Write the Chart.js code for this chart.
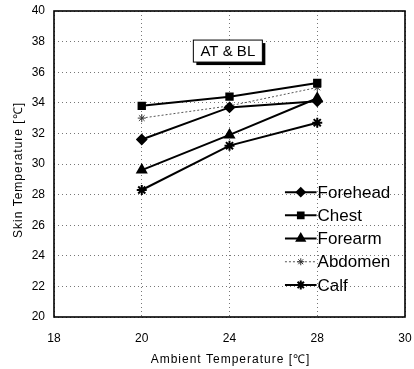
<!DOCTYPE html>
<html>
<head>
<meta charset="utf-8">
<script src="https://cdn.jsdelivr.net/npm/chart.js@4/dist/chart.umd.min.js"></script>
<style>
html,body{margin:0;padding:0;background:#fff;}
#wrap{width:414px;height:369px;position:relative;}
</style>
</head>
<body>
<div id="wrap"><canvas id="c" width="414" height="369"></canvas></div>
<script>
const categories = ['18', '20', '24', '28', '30'];
const forehead = [null, 31.6, 33.7, 34.1, null];
const chest    = [null, 33.8, 34.4, 35.3, null];
const forearm  = [null, 29.6, 31.9, 34.3, null];
const abdomen  = [null, 33.0, 33.8, 35.0, null];
const calf     = [null, 28.3, 31.2, 32.7, null];
const seriesNames = ['Forehead', 'Chest', 'Forearm', 'Abdomen', 'Calf'];
const yTicks = { min: 20, max: 40, step: 2 };
const boxTitle = 'AT & BL';
const xTitle = 'Ambient Temperature [℃]';
const yTitle = 'Skin Temperature [℃]';

const FONT = "'Liberation Sans', Arial, sans-serif";

function ds(label, data, style, radius, dashed) {
  return {
    label, data,
    borderColor: dashed ? '#555' : '#000',
    backgroundColor: '#000',
    borderWidth: dashed ? 1 : 2,
    borderDash: dashed ? [2, 2] : [],
    pointStyle: style,
    pointRadius: radius,
    pointBorderColor: dashed ? '#333' : '#000',
    pointBackgroundColor: '#000',
    pointBorderWidth: dashed ? 1 : 2,
    tension: 0,
    fill: false
  };
}

const frameAndExtras = {
  id: 'extras',
  afterDraw(chart) {
    const ctx = chart.ctx;
    const a = chart.chartArea;
    const w = a.right - a.left, h = a.bottom - a.top;
    // frame
    ctx.save();
    ctx.strokeStyle = '#000';
    ctx.lineWidth = 1.6;
    ctx.strokeRect(a.left, a.top, w, h);
    ctx.restore();

    // axis titles
    ctx.save();
    ctx.fillStyle = '#000';
    ctx.font = '12px ' + FONT;
    ctx.letterSpacing = '1px';
    ctx.textAlign = 'center';
    ctx.textBaseline = 'middle';
    ctx.fillText(xTitle, (a.left + a.right) / 2 + 1, a.bottom + 43);
    ctx.translate(19, (a.top + a.bottom) / 2 + 6);
    ctx.rotate(-Math.PI / 2);
    ctx.fillText(yTitle, 0, 0);
    ctx.restore();

    // title box
    const bx = a.left + w * 0.397, by = a.top + h * 0.095;
    const bw = 69, bh = 22;
    ctx.save();
    ctx.fillStyle = '#000';
    ctx.fillRect(bx + 3, by + 3, bw, bh);
    ctx.fillStyle = '#fff';
    ctx.fillRect(bx, by, bw, bh);
    ctx.strokeStyle = '#000';
    ctx.lineWidth = 1;
    ctx.strokeRect(bx, by, bw, bh);
    ctx.fillStyle = '#000';
    ctx.font = '15px ' + FONT;
    ctx.textAlign = 'center';
    ctx.textBaseline = 'middle';
    ctx.fillText(boxTitle, bx + bw / 2, by + bh / 2 + 1);
    ctx.restore();

    // legend
    const lx0 = a.left + w * 0.658, lx1 = a.left + w * 0.748;
    const ty = a.top + h * 0.592;
    const step = 23.2;
    chart.data.datasets.forEach((d, i) => {
      const y = ty + i * step;
      ctx.save();
      ctx.strokeStyle = d.borderColor;
      ctx.lineWidth = d.borderWidth;
      ctx.setLineDash(d.borderDash);
      ctx.beginPath();
      ctx.moveTo(lx0, y);
      ctx.lineTo(lx1, y);
      ctx.stroke();
      ctx.setLineDash([]);
      ctx.fillStyle = d.pointBackgroundColor;
      ctx.strokeStyle = d.pointBorderColor;
      ctx.lineWidth = d.pointBorderWidth;
      Chart.helpers.drawPoint(ctx, {
        pointStyle: d.pointStyle, radius: Math.max(3, d.pointRadius - 0.5),
        borderWidth: d.pointBorderWidth, rotation: 0
      }, (lx0 + lx1) / 2, y);
      ctx.fillStyle = '#000';
      ctx.font = '17px ' + FONT;
      ctx.textAlign = 'left';
      ctx.textBaseline = 'middle';
      ctx.fillText(d.label, lx1 + 1, y + 1);
      ctx.restore();
    });
  }
};

new Chart(document.getElementById('c'), {
  type: 'line',
  data: {
    labels: categories,
    datasets: [
      ds(seriesNames[0], forehead, 'rectRot', 4.5, false),
      ds(seriesNames[1], chest, 'rect', 4.5, false),
      ds(seriesNames[2], forearm, 'triangle', 5, false),
      ds(seriesNames[3], abdomen, 'star', 4, true),
      ds(seriesNames[4], calf, 'star', 5, false)
    ]
  },
  options: {
    responsive: false,
    animation: false,
    devicePixelRatio: 1,
    layout: { padding: { top: 11, right: 9, left: 0, bottom: 0 } },
    plugins: { legend: { display: false }, tooltip: { enabled: false } },
    scales: {
      x: {
        type: 'category',
        offset: false,
        grid: { color: '#777', lineWidth: 1, drawTicks: false },
        border: { display: false, dash: [1, 3] },
        ticks: { color: '#000', font: { family: FONT, size: 12 }, padding: 14, maxRotation: 0 },
        title: { display: false },
        afterFit(s) { s.height = 52; s.paddingLeft = 0; s.paddingRight = 0; }
      },
      y: {
        min: yTicks.min, max: yTicks.max,
        grid: { color: '#777', lineWidth: 1, drawTicks: false },
        border: { display: false, dash: [1, 3] },
        ticks: { stepSize: yTicks.step, color: '#000', font: { family: FONT, size: 12 }, padding: 9 },
        title: { display: false },
        afterFit(s) { s.width = 54; s.paddingTop = 0; s.paddingBottom = 0; }
      }
    }
  },
  plugins: [frameAndExtras]
});
</script>
</body>
</html>
